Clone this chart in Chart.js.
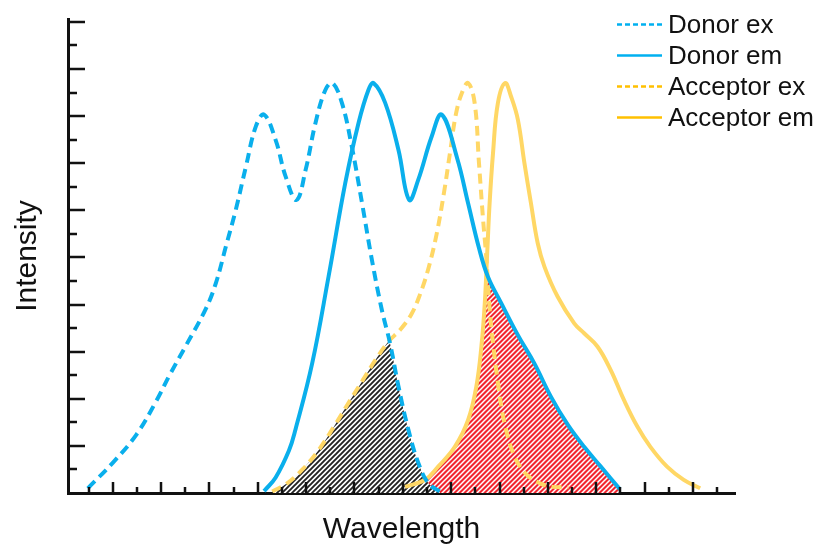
<!DOCTYPE html>
<html>
<head>
<meta charset="utf-8">
<script src="https://cdn.jsdelivr.net/npm/chart.js"></script>
<style>
  html, body { margin: 0; padding: 0; background: #fff; }
  #wrap { width: 819px; height: 548px; }
</style>
</head>
<body>
<div id="wrap"><canvas id="myChart"></canvas></div>
<script>
// spectra (arbitrary wavelength units, intensity 0..10)
const labels = ['Donor ex', 'Donor em', 'Acceptor ex', 'Acceptor em'];

const donorExX = [9.7, 20.0, 29.8, 38.0, 43.5, 50.4, 58.6, 62.7, 66.8, 70.9, 75.1, 79.2, 82.6, 87.4, 91.5, 96.0, 99.8, 103.9, 108.0, 110.9, 114.8, 118.9, 123.1, 127.2, 131.3, 134.7, 138.2, 142.3, 146.4, 150.5, 155.3];
const donorExY = [0.10, 0.64, 1.24, 1.95, 2.50, 3.14, 3.92, 4.46, 5.23, 6.01, 6.93, 7.78, 8.03, 7.49, 6.72, 6.22, 6.86, 7.86, 8.56, 8.70, 8.28, 7.35, 6.16, 4.95, 3.89, 3.18, 2.26, 1.34, 0.64, 0.21, 0.03];

const donorEmX = [82.6, 87.4, 92.9, 95.6, 102.5, 109.3, 116.2, 121.7, 125.8, 127.9, 132.7, 138.2, 142.6, 146.4, 151.9, 156.1, 162.5, 167.0, 171.5, 175.2, 180.7, 187.6, 194.4, 201.3, 208.2, 215.0, 221.9, 229.8];
const donorEmY = [0.04, 0.33, 0.90, 1.35, 2.75, 4.60, 6.58, 7.86, 8.56, 8.70, 8.28, 7.28, 6.22, 6.65, 7.56, 8.03, 7.10, 6.15, 5.20, 4.59, 4.03, 3.35, 2.75, 2.04, 1.45, 0.98, 0.56, 0.08];

const acceptorExX = [86.0, 92.0, 98.5, 105.0, 112.0, 118.0, 123.5, 129.0, 134.2, 139.0, 143.6, 147.0, 150.5, 154.0, 157.1, 159.6, 162.0, 164.5, 167.0, 169.7, 171.5, 173.2, 174.6, 175.9, 177.3, 179.3, 182.0, 186.0, 191.0, 197.0, 202.0, 208.5];
const acceptorExY = [0.03, 0.20, 0.50, 0.90, 1.45, 1.95, 2.40, 2.85, 3.22, 3.47, 3.80, 4.20, 4.75, 5.50, 6.40, 7.25, 8.05, 8.50, 8.70, 8.28, 7.00, 5.80, 4.95, 3.90, 3.18, 2.35, 1.50, 0.80, 0.40, 0.20, 0.13, 0.12];

const acceptorEmX = [140.9, 149.2, 154.6, 161.5, 167.0, 170.4, 172.5, 173.9, 174.9, 175.9, 177.3, 179.3, 182.3, 184.8, 187.6, 190.3, 193.0, 195.8, 198.6, 204.0, 210.9, 215.0, 220.5, 226.0, 231.5, 237.0, 242.4, 249.3, 256.2, 263.0];
const acceptorEmY = [0.13, 0.28, 0.56, 0.98, 1.55, 2.26, 3.11, 4.03, 5.09, 6.15, 7.21, 8.27, 8.70, 8.41, 7.92, 7.00, 6.15, 5.30, 4.80, 4.17, 3.60, 3.39, 3.11, 2.61, 1.97, 1.41, 0.98, 0.56, 0.28, 0.10];

// tick marks (no labels on either axis)
const xTicks = [10, 20, 30, 40, 50, 60, 70, 80, 90, 100, 110, 120, 130, 140, 150, 160, 170, 180, 190, 200, 210, 220, 230, 240, 250, 260, 270];
const yTicks = [0.5, 1, 1.5, 2, 2.5, 3, 3.5, 4, 4.5, 5, 5.5, 6, 6.5, 7, 7.5, 8, 8.5, 9, 9.5, 10];

const BLUE = '#0AAFEC';
const YELLOW = '#FFD765';
const legendColors = ['#00B0F0', '#00B0F0', '#FFC000', '#FFC000'];
const FONT = '"Liberation Sans", Arial, sans-serif';

const pts = (xs, ys) => xs.map((x, i) => ({ x, y: ys[i] }));

function hatch(bg, fg, w) {
  const c = document.createElement('canvas');
  c.width = c.height = 5;
  const g = c.getContext('2d');
  g.fillStyle = bg;
  g.fillRect(0, 0, 5, 5);
  g.strokeStyle = fg;
  g.lineWidth = w;
  g.beginPath();
  g.moveTo(-1, 6); g.lineTo(6, -1);
  g.moveTo(-1, 1); g.lineTo(1, -1);
  g.moveTo(4, 6); g.lineTo(6, 4);
  g.stroke();
  return g.createPattern(c, 'repeat');
}

// overlap areas: region under both curves, hatched
const overlapFill = {
  id: 'overlapFill',
  beforeDatasetsDraw(chart) {
    const { ctx, scales: { y } } = chart;
    const base = y.getPixelForValue(0);
    const area = (i) => {
      const line = chart.getDatasetMeta(i).dataset;
      const p = line.points;
      ctx.beginPath();
      line.path(ctx);
      ctx.lineTo(p[p.length - 1].x, base);
      ctx.lineTo(p[0].x, base);
      ctx.closePath();
    };
    const pairs = [
      [1, 3, hatch('#F2262F', '#ffffff', 1.5)],
      [0, 2, hatch('#ffffff', '#222222', 1.9)]
    ];
    pairs.forEach(([a, b, fill]) => {
      ctx.save();
      area(a);
      ctx.clip();
      area(b);
      ctx.fillStyle = fill;
      ctx.fill();
      ctx.restore();
    });
  }
};

// inward tick marks
const innerTicks = {
  id: 'innerTicks',
  afterDatasetsDraw(chart) {
    const { ctx, scales: { x, y } } = chart;
    const x0 = x.left, y0 = y.bottom;
    ctx.save();
    ctx.strokeStyle = '#111';
    ctx.lineWidth = 2.5;
    ctx.beginPath();
    xTicks.forEach(v => {
      const px = Math.round(x.getPixelForValue(v));
      const len = v % 20 === 0 ? 11 : 6;
      ctx.moveTo(px, y0);
      ctx.lineTo(px, y0 - len);
    });
    yTicks.forEach(v => {
      const py = Math.round(y.getPixelForValue(v));
      const len = Number.isInteger(v) ? 17 : 9;
      ctx.moveTo(x0, py);
      ctx.lineTo(x0 + len, py);
    });
    ctx.stroke();
    ctx.restore();
  }
};

const legendBox = {
  id: 'legendBox',
  afterDraw(chart) {
    const { ctx } = chart;
    ctx.save();
    ctx.font = '26px ' + FONT;
    ctx.textBaseline = 'middle';
    chart.data.datasets.forEach((ds, i) => {
      const yy = 24.5 + i * 31;
      ctx.strokeStyle = legendColors[i];
      ctx.lineWidth = 2.5;
      ctx.setLineDash(ds.borderDash && ds.borderDash.length ? [5, 3] : []);
      ctx.beginPath();
      ctx.moveTo(617, yy);
      ctx.lineTo(662, yy);
      ctx.stroke();
      ctx.fillStyle = '#111';
      ctx.fillText(ds.label, 668, yy + 1);
    });
    ctx.restore();
  }
};

const line = (i, xs, ys, color, dashed) => ({
  label: labels[i],
  data: pts(xs, ys),
  borderColor: color,
  borderWidth: 4,
  borderDash: dashed ? [10, 6] : [],
  pointRadius: 0,
  fill: false,
  tension: 0.4
});

new Chart(document.getElementById('myChart'), {
  type: 'line',
  data: {
    datasets: [
      line(0, donorExX, donorExY, BLUE, true),
      line(1, donorEmX, donorEmY, BLUE, false),
      line(2, acceptorExX, acceptorExY, YELLOW, true),
      line(3, acceptorEmX, acceptorEmY, YELLOW, false)
    ]
  },
  options: {
    responsive: true,
    maintainAspectRatio: false,
    animation: false,
    devicePixelRatio: 1,
    layout: { padding: { top: 19, right: 84, left: 0, bottom: 0 } },
    plugins: { legend: { display: false }, tooltip: { enabled: false } },
    scales: {
      x: {
        type: 'linear',
        min: 1.5,
        max: 277.4,
        grid: { display: false },
        ticks: { display: false },
        border: { display: true, color: '#111', width: 3 },
        title: { display: true, text: 'Wavelength', color: '#111', font: { family: FONT, size: 30 }, padding: { top: 0, bottom: 0 } },
        afterFit(s) { s.height = 55; }
      },
      y: {
        min: 0,
        max: 10.06,
        grid: { display: false },
        ticks: { display: false },
        border: { display: true, color: '#111', width: 3 },
        title: { display: true, text: 'Intensity', color: '#111', font: { family: FONT, size: 30 }, padding: { top: 10, bottom: 0 } },
        afterFit(s) { s.width = 68; }
      }
    }
  },
  plugins: [overlapFill, innerTicks, legendBox]
});
</script>
</body>
</html>
